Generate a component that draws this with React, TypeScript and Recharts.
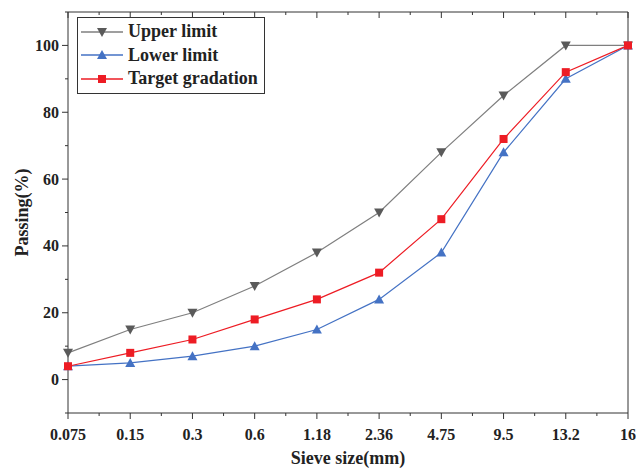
import React from 'react';
import { LineChart, Line, XAxis, YAxis, Legend, Label } from 'recharts';

const sieveSizes = ['0.075', '0.15', '0.3', '0.6', '1.18', '2.36', '4.75', '9.5', '13.2', '16'];
const upperLimit = [8, 15, 20, 28, 38, 50, 68, 85, 100, 100];
const lowerLimit = [4, 5, 7, 10, 15, 24, 38, 68, 90, 100];
const targetGradation = [4, 8, 12, 18, 24, 32, 48, 72, 92, 100];
const yTickLabels = [0, 20, 40, 60, 80, 100];

const seriesNames = { upper: 'Upper limit', lower: 'Lower limit', target: 'Target gradation' };

const data = sieveSizes.map((s, i) => ({
  idx: i,
  size: s,
  upper: upperLimit[i],
  lower: lowerLimit[i],
  target: targetGradation[i],
}));

const xTicks: number[] = [];
for (let i = 0; i <= (sieveSizes.length - 1) * 2; i++) xTicks.push(i / 2);
const yTicks: number[] = [];
for (let v = -10; v <= 110; v += 10) yTicks.push(v);

const AX = '#333';
const FONT = "'Liberation Serif', 'Times New Roman', serif";
const GRAY_LINE = '#7f7f7f';
const GRAY_MARK = '#5a5a5a';
const BLUE = '#4472c4';
const RED = '#ed1c24';

const isMajorX = (v: number) => Number.isInteger(v);
const isMajorY = (v: number) => yTickLabels.includes(v);

const BottomTick = (props: any) => {
  const { x, y, payload } = props;
  const v = payload.value;
  const major = isMajorX(v);
  return (
    <g>
      <line x1={x} x2={x} y1={y} y2={y + (major ? 6 : 3)} stroke={AX} strokeWidth={1} />
      {major && (
        <text x={x} y={y + 27} textAnchor="middle" fontFamily={FONT} fontWeight="bold" fontSize={16} fill="#222">
          {sieveSizes[v]}
        </text>
      )}
    </g>
  );
};

const TopTick = (props: any) => {
  const { x, y, payload } = props;
  const major = isMajorX(payload.value);
  return <line x1={x} x2={x} y1={y} y2={y + (major ? 6 : 3)} stroke={AX} strokeWidth={1} />;
};

const LeftTick = (props: any) => {
  const { x, y, payload } = props;
  const v = payload.value;
  const major = isMajorY(v);
  return (
    <g>
      <line x1={x} x2={x - (major ? 6 : 3)} y1={y} y2={y} stroke={AX} strokeWidth={1} />
      {major && (
        <text x={x - 9} y={y + 5.5} textAnchor="end" fontFamily={FONT} fontWeight="bold" fontSize={16} fill="#222">
          {v}
        </text>
      )}
    </g>
  );
};

const RightTick = (props: any) => {
  const { x, y, payload } = props;
  const major = isMajorY(payload.value);
  return <line x1={x} x2={x - (major ? 6 : 3)} y1={y} y2={y} stroke={AX} strokeWidth={1} />;
};

const TriDown = (props: any) => {
  const { cx, cy, fill } = props;
  if (cx == null || cy == null) return null;
  return <path d={`M${cx - 5},${cy - 4} L${cx + 5},${cy - 4} L${cx},${cy + 5} Z`} fill={fill} />;
};
const TriUp = (props: any) => {
  const { cx, cy, fill } = props;
  if (cx == null || cy == null) return null;
  return <path d={`M${cx - 5},${cy + 4} L${cx + 5},${cy + 4} L${cx},${cy - 5} Z`} fill={fill} />;
};
const Square = (props: any) => {
  const { cx, cy, fill } = props;
  if (cx == null || cy == null) return null;
  return <rect x={cx - 4} y={cy - 4} width={8} height={8} fill={fill} />;
};

const legendItems = [
  { key: 'upper', line: GRAY_LINE, mark: GRAY_MARK, Shape: TriDown },
  { key: 'lower', line: BLUE, mark: BLUE, Shape: TriUp },
  { key: 'target', line: RED, mark: RED, Shape: Square },
];

const LegendBox = () => (
  <div
    style={{
      border: `1px solid ${AX}`,
      background: '#fff',
      padding: '2px 6px 2px 2px',
      fontFamily: FONT,
      fontWeight: 'bold',
      fontSize: 18,
      color: '#222',
      lineHeight: '23.5px',
    }}
  >
    {legendItems.map((it) => (
      <div key={it.key} style={{ display: 'flex', alignItems: 'center', whiteSpace: 'nowrap' }}>
        <svg width={44} height={16} style={{ marginRight: 4 }}>
          <line x1={1} x2={43} y1={8} y2={8} stroke={it.line} strokeWidth={1.3} />
          <it.Shape cx={22} cy={8} fill={it.mark} />
        </svg>
        <span>{(seriesNames as any)[it.key]}</span>
      </div>
    ))}
  </div>
);

export default function App() {
  return (
    <div style={{ position: 'absolute', left: 0, top: 0, background: '#fff' }}>
      <LineChart width={636} height={470} data={data} margin={{ top: 11, right: 7, bottom: 0, left: 0 }}>
        <XAxis
          dataKey="idx"
          type="number"
          domain={[0, sieveSizes.length - 1]}
          ticks={xTicks}
          interval={0}
          height={57}
          tickSize={0}
          tickMargin={0}
          tickLine={false}
          axisLine={{ stroke: AX, strokeWidth: 1 }}
          tick={<BottomTick />}
        >
          <Label
            content={(p: any) => {
              const vb = p.viewBox;
              return (
                <text x={vb.x + vb.width / 2} y={vb.y + vb.height - 6} textAnchor="middle" fontFamily={FONT} fontWeight="bold" fontSize={18} fill="#222">
                  Sieve size(mm)
                </text>
              );
            }}
          />
        </XAxis>
        <XAxis
          xAxisId="top"
          orientation="top"
          dataKey="idx"
          type="number"
          domain={[0, sieveSizes.length - 1]}
          ticks={xTicks}
          interval={0}
          height={1}
          tickSize={0}
          tickMargin={0}
          tickLine={false}
          axisLine={{ stroke: AX, strokeWidth: 1 }}
          tick={<TopTick />}
        />
        <YAxis
          type="number"
          domain={[-10, 110]}
          ticks={yTicks}
          interval={0}
          width={68}
          tickSize={0}
          tickMargin={0}
          tickLine={false}
          axisLine={{ stroke: AX, strokeWidth: 1 }}
          tick={<LeftTick />}
        >
          <Label
            content={(p: any) => {
              const vb = p.viewBox;
              const cx = vb.x + 22;
              const cy = vb.y + vb.height / 2;
              return (
                <text x={cx} y={cy} transform={`rotate(-90 ${cx} ${cy})`} textAnchor="middle" dominantBaseline="central" fontFamily={FONT} fontWeight="bold" fontSize={18} fill="#222">
                  Passing(%)
                </text>
              );
            }}
          />
        </YAxis>
        <YAxis
          yAxisId="right"
          orientation="right"
          type="number"
          domain={[-10, 110]}
          ticks={yTicks}
          interval={0}
          width={1}
          tickSize={0}
          tickMargin={0}
          tickLine={false}
          axisLine={{ stroke: AX, strokeWidth: 1 }}
          tick={<RightTick />}
        />
        <Legend
          layout="vertical"
          verticalAlign="middle"
          align="center"
          wrapperStyle={{ left: 77, top: 17, width: 'auto' }}
          content={() => <LegendBox />}
        />
        <Line
          dataKey="upper"
          name={seriesNames.upper}
          stroke={GRAY_LINE}
          strokeWidth={1.2}
          isAnimationActive={false}
          dot={(p: any) => <TriDown key={`u${p.index}`} cx={p.cx} cy={p.cy} fill={GRAY_MARK} />}
          activeDot={false}
        />
        <Line
          dataKey="lower"
          name={seriesNames.lower}
          stroke={BLUE}
          strokeWidth={1.2}
          isAnimationActive={false}
          dot={(p: any) => <TriUp key={`l${p.index}`} cx={p.cx} cy={p.cy} fill={BLUE} />}
          activeDot={false}
        />
        <Line
          dataKey="target"
          name={seriesNames.target}
          stroke={RED}
          strokeWidth={1.2}
          isAnimationActive={false}
          dot={(p: any) => <Square key={`t${p.index}`} cx={p.cx} cy={p.cy} fill={RED} />}
          activeDot={false}
        />
      </LineChart>
    </div>
  );
}
